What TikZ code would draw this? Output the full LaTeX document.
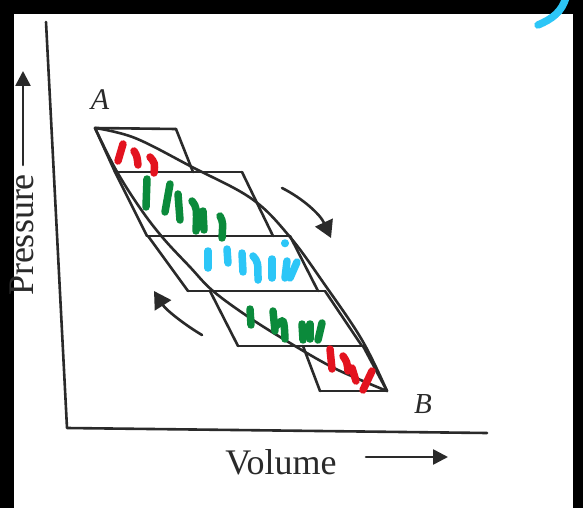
\documentclass[tikz,border=0pt]{standalone}
\usepackage{fontspec}
\setmainfont{Liberation Serif}
\usetikzlibrary{arrows.meta}
\definecolor{ink}{HTML}{2A2A2A}
\definecolor{mkred}{HTML}{E3131F}
\definecolor{mkgreen}{HTML}{0B8A3B}
\definecolor{mkblue}{HTML}{2CC6F7}
\begin{document}
\begin{tikzpicture}[x=1pt,y=-1pt,
  axisline/.style={draw=ink,line width=2.6pt,line cap=round,line join=round},
  cycline/.style={draw=ink,line width=2.6pt,line cap=round,line join=round},
  redmk/.style={draw=mkred,line width=7.5pt,line cap=round},
  greenmk/.style={draw=mkgreen,line width=7.5pt,line cap=round},
  bluemk/.style={draw=mkblue,line width=7.5pt,line cap=round},
  bigtip/.style={-{Triangle[length=17pt,width=19pt]}},
  axtip/.style={-{Triangle[length=15pt,width=15pt]}},
  lbl/.style={inner sep=0pt,text=ink}]
\useasboundingbox (0,0) rectangle (583,508);
\fill[white] (0,0) rectangle (583,508);
% black photo borders
\fill[black] (0,0) rectangle (583,14);
\fill[black] (0,0) rectangle (14,508);
\fill[black] (573,0) rectangle (583,508);
% blue stroke top right
\draw[bluemk] (566,-3) .. controls (562,12) and (552,19) .. (538,25);

% axes
\coordinate (ytop) at (46,22);
\coordinate (origin) at (67,428);
\coordinate (xend) at (487,433);
\draw[axisline] (ytop) -- (origin) -- (xend);

% axis labels
\coordinate (pa0) at (23,165);
\coordinate (pa1) at (23,71);
\draw[axisline,axtip] (pa0) -- (pa1);
\node[lbl,rotate=90,anchor=base,font=\fontsize{36}{40}\selectfont] (plab) at (33,235) {Pressure};
\coordinate (va0) at (366,457);
\coordinate (va1) at (448,457);
\draw[axisline,axtip] (va0) -- (va1);
\node[lbl,anchor=base,font=\fontsize{36}{40}\selectfont] (vlab) at (281,474) {Volume};

% point labels
\node[lbl,font=\fontsize{30}{34}\selectfont\itshape] (alab) at (100,100) {A};
\node[lbl,font=\fontsize{29}{33}\selectfont\itshape] (blab) at (423,404) {B};

% cycle
\coordinate (A) at (95,128);
\coordinate (B) at (387,391);
\draw[cycline] plot[smooth,tension=0.6] coordinates {(A) (135,138) (192,167) (252,199) (290,237) (325,285) (362,340) (B)};
\draw[cycline] plot[smooth,tension=0.6] coordinates {(A) (116,170) (140,208) (163,238) (190,267) (213,291) (250,318) (290,343) (330,366) (363,381) (B)};

% parallelograms: horizontal lines
\draw[cycline] (A) -- (176,129);
\draw[cycline] (115,172) -- (242,172);
\draw[cycline] (147,236) -- (290,236);
\draw[cycline] (188,291) -- (325,291);
\draw[cycline] (238,346) -- (363,346);
\draw[cycline] (320,391) -- (B);
% left sides
\draw[cycline] (A) -- (115,172) -- (147,236);
\draw[cycline] (148,236) -- (188,291);
\draw[cycline] (210,291) -- (238,346);
\draw[cycline] (303,346) -- (320,391);
% right sides
\draw[cycline] (176,129) -- (193,172);
\draw[cycline] (242,172) -- (273,236);
\draw[cycline] (290,236) -- (318,291);
\draw[cycline] (325,291) -- (362,346);
\draw[cycline] (363,346) -- (B);

% direction arrows
\coordinate (ra0) at (282,188);
\coordinate (ra1) at (331,238);
\draw[cycline,bigtip] (ra0) .. controls (302,198) and (320,214) .. (ra1);
\coordinate (la0) at (202,335);
\coordinate (la1) at (154,291);
\draw[cycline,bigtip] (la0) .. controls (185,325) and (166,310) .. (la1);

% red marks top
\draw[redmk] (123,144) .. controls (120,152) .. (118,161);
\draw[redmk] (134,151) .. controls (137,156) .. (138,165);
\draw[redmk] (150,157) .. controls (155,163) .. (154,173);
% green marks upper
\draw[greenmk] (147,179) -- (146,207);
\draw[greenmk] (170,184) -- (165,212);
\draw[greenmk] (178,194) -- (180,220);
\draw[greenmk] (192,201) .. controls (197,208) .. (196,231);
\draw[greenmk] (203,211) -- (204,230);
\draw[greenmk] (220,216) .. controls (223,222) .. (222,238);
% blue marks
\draw[bluemk] (208,251) -- (208,268);
\draw[bluemk] (227,249) -- (228,263);
\draw[bluemk] (242,253) -- (243,272);
\draw[bluemk] (253,256) .. controls (258,262) .. (258,280);
\draw[bluemk] (272,259) -- (272,278);
\draw[bluemk] (285,243) -- (285,243.5);
\draw[bluemk] (287,261) -- (285,278);
\draw[bluemk] (297,262) -- (290,278);
% green marks lower
\draw[greenmk] (250,309) -- (251,325);
\draw[greenmk] (273,311) -- (275,331);
\draw[greenmk] (276,326) .. controls (284,318) .. (285,339);
\draw[greenmk] (302,324) -- (303,340);
\draw[greenmk] (310,324) -- (310,339);
\draw[greenmk] (322,323) -- (318,340);
% red marks lower
\draw[redmk] (330,349) -- (332,369);
\draw[redmk] (343,356) .. controls (347,362) .. (348,371);
\draw[redmk] (352,368) -- (356,381);
\draw[redmk] (372,371) -- (363,390);
\end{tikzpicture}
\end{document}
